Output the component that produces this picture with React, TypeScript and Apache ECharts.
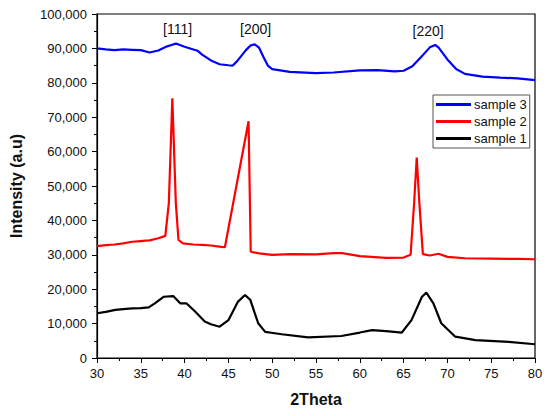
import React, { useEffect, useRef } from "react";
import * as echarts from "echarts";

const sample3Theta = [30, 31, 32, 33, 34, 35, 36, 37, 38, 38.5, 39, 40, 41, 41.5, 42, 43, 44, 45, 45.5, 46, 47, 47.5, 48, 48.5, 49, 49.5, 50, 52, 55, 57, 60, 62, 64, 65, 66, 67, 68, 68.6, 69, 70, 71, 72, 74, 76, 78, 80];
const sample3Values = [90000, 89700, 89500, 89700, 89600, 89500, 88800, 89400, 90600, 91000, 91400, 90500, 89700, 89300, 88200, 86500, 85400, 85100, 85000, 86300, 89500, 90800, 91200, 90200, 87500, 85000, 84000, 83200, 82800, 83000, 83600, 83700, 83300, 83500, 84800, 87500, 90300, 91000, 90200, 86800, 84000, 82600, 81800, 81500, 81300, 80800];

const sample2Theta = [30, 31, 32, 33, 34, 35, 35.5, 36, 37, 37.8, 38.2, 38.6, 39.0, 39.3, 39.8, 41, 42, 43, 44.2, 44.6, 47.3, 47.55, 48.5, 50, 52, 55, 57, 58, 60, 63, 65, 65.8, 66.2, 66.5, 66.8, 67.2, 68, 69, 70, 72, 75, 78, 80];
const sample2Values = [32500, 32800, 33000, 33300, 33800, 34000, 34100, 34200, 34800, 35500, 45000, 75500, 45000, 34300, 33300, 33000, 32900, 32700, 32300, 32200, 68800, 30900, 30400, 30000, 30200, 30100, 30500, 30500, 29600, 29100, 29200, 30000, 45000, 58300, 45000, 30200, 29800, 30300, 29400, 29000, 28900, 28800, 28700];

const sample1Theta = [30, 31, 32.1, 33, 34, 35, 35.9, 36.6, 37.6, 38.7, 39.5, 40.2, 41.2, 42.3, 43, 44, 45, 46.1, 46.9, 47.5, 48.4, 49.2, 50.3, 51.1, 54.1, 57.9, 60, 61.4, 63, 64.8, 65.9, 67.1, 67.6, 68.4, 69.3, 70.9, 73.2, 77, 80];
const sample1Values = [13000, 13400, 14000, 14200, 14400, 14500, 14700, 15900, 17800, 18000, 15900, 15900, 13500, 10600, 9800, 9100, 11000, 16400, 18300, 16900, 10100, 7600, 7200, 6900, 6000, 6400, 7400, 8100, 7800, 7400, 11000, 17800, 19000, 15900, 10100, 6200, 5200, 4700, 4000];

const seriesNames = ["sample 3", "sample 2", "sample 1"];
const seriesColors = ["#0000ff", "#ff0000", "#000000"];
const peakLabels = ["[111]", "[200]", "[220]"];
const peakTheta = [39.2, 48.1, 67.8];
const peakLabelY = [95600, 95600, 95000];

const pairs = (xs: number[], ys: number[]) => xs.map((x, i) => [x, ys[i]]);

export default function App() {
  const ref = useRef<HTMLDivElement>(null);
  useEffect(() => {
    if (!ref.current) return;
    const chart = echarts.init(ref.current, null, { renderer: "svg" });
    const font = "Liberation Sans, Arial, sans-serif";
    const datasets = [pairs(sample3Theta, sample3Values), pairs(sample2Theta, sample2Values), pairs(sample1Theta, sample1Values)];
    chart.setOption({
      animation: false,
      backgroundColor: "#ffffff",
      grid: { left: 97, right: 15, top: 14, bottom: 58, show: true, borderColor: "#000", borderWidth: 1.2, backgroundColor: "transparent" },
      legend: {
        orient: "vertical",
        left: 433,
        top: 95,
        data: seriesNames,
        icon: "rect",
        itemWidth: 35,
        itemHeight: 3,
        itemGap: 4,
        padding: [3, 3, 3, 3],
        borderColor: "#555",
        borderWidth: 1,
        backgroundColor: "#fff",
        textStyle: { fontFamily: font, fontSize: 13, color: "#111", padding: [0, 0, 0, -2] },
      },
      xAxis: {
        type: "value",
        min: 30,
        max: 80,
        interval: 5,
        name: "2Theta",
        nameLocation: "middle",
        nameGap: 33,
        nameTextStyle: { fontFamily: font, fontSize: 16, fontWeight: "bold", color: "#111" },
        axisLine: { show: true, lineStyle: { color: "#000", width: 1.2 } },
        axisTick: { show: true, length: 5, lineStyle: { color: "#000" } },
        minorTick: { show: true, splitNumber: 2, length: 3, lineStyle: { color: "#000" } },
        splitLine: { show: false },
        axisLabel: { fontFamily: font, fontSize: 13, color: "#111", margin: 9 },
      },
      yAxis: {
        type: "value",
        min: 0,
        max: 100000,
        interval: 10000,
        name: "Intensity (a.u)",
        nameLocation: "middle",
        nameGap: 73,
        nameTextStyle: { fontFamily: font, fontSize: 16, fontWeight: "bold", color: "#111" },
        axisLine: { show: true, lineStyle: { color: "#000", width: 1.2 } },
        axisTick: { show: true, length: 5, lineStyle: { color: "#000" } },
        minorTick: { show: true, splitNumber: 2, length: 3, lineStyle: { color: "#000" } },
        splitLine: { show: false },
        axisLabel: {
          fontFamily: font,
          fontSize: 13,
          color: "#111",
          margin: 10,
          formatter: (v: number) => v.toLocaleString("en-US"),
        },
      },
      series: seriesNames.map((name, i) => ({
        name,
        type: "line",
        data: datasets[i],
        showSymbol: false,
        symbol: "none",
        smooth: false,
        lineStyle: { color: seriesColors[i], width: 2.2 },
        itemStyle: { color: seriesColors[i] },
        z: 3 - i,
        markPoint:
          i === 0
            ? {
                symbol: "circle",
                symbolSize: 0,
                silent: true,
                label: { show: true, position: "inside", fontFamily: font, fontSize: 14, color: "#111", formatter: (p: any) => p.name },
                data: peakLabels.map((lbl, k) => ({ name: lbl, coord: [peakTheta[k], peakLabelY[k]] })),
              }
            : undefined,
      })),
    });
    return () => chart.dispose();
  }, []);
  return <div ref={ref} style={{ position: "fixed", left: 0, top: 0, width: 550, height: 416 }} />;
}
